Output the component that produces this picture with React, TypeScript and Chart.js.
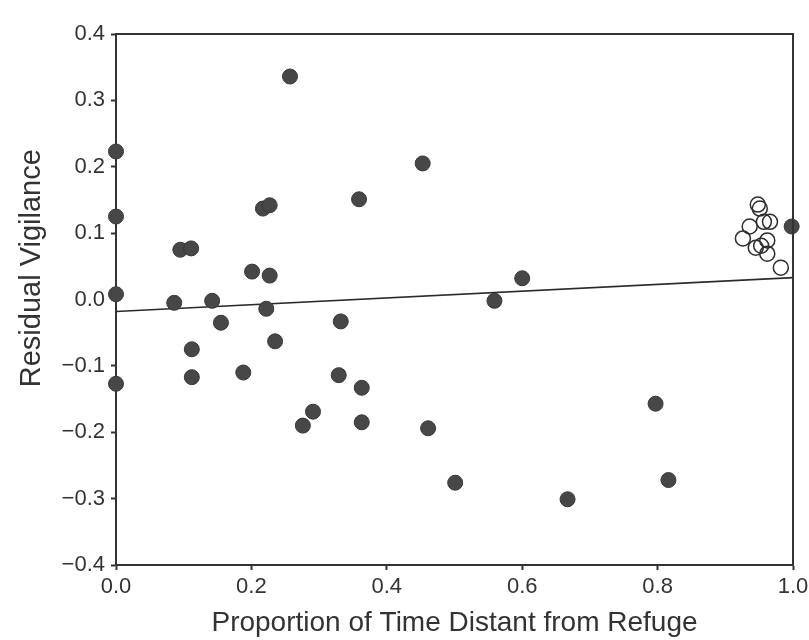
import React, { useEffect, useRef } from "react";
import { Chart, registerables } from "chart.js";

Chart.register(...registerables);

// Filled circles: [proportion of time distant from refuge, residual vigilance]
const filledX = [0.0, 0.0, 0.0, 0.0, 0.257, 0.453, 0.359, 0.217, 0.227, 0.095, 0.111, 0.201, 0.227, 0.086, 0.142, 0.222, 0.155, 0.112, 0.112, 0.235, 0.332, 0.188, 0.329, 0.363, 0.291, 0.276, 0.363, 0.461, 0.559, 0.600, 0.501, 0.667, 0.797, 0.816, 0.998];
const filledY = [0.223, 0.125, 0.008, -0.127, 0.336, 0.205, 0.151, 0.137, 0.142, 0.075, 0.077, 0.042, 0.036, -0.005, -0.002, -0.014, -0.035, -0.075, -0.117, -0.063, -0.033, -0.110, -0.114, -0.133, -0.169, -0.190, -0.185, -0.194, -0.002, 0.032, -0.276, -0.301, -0.157, -0.272, 0.110];

// Open circles
const openX = [0.948, 0.951, 0.957, 0.966, 0.936, 0.926, 0.962, 0.945, 0.953, 0.962, 0.982];
const openY = [0.143, 0.137, 0.117, 0.117, 0.110, 0.092, 0.089, 0.078, 0.081, 0.069, 0.048];

// Regression line end points
const lineX = [0.0, 1.0];
const lineY = [-0.018, 0.033];

const xTicks = [0.0, 0.2, 0.4, 0.6, 0.8, 1.0];
const yTicks = [-0.4, -0.3, -0.2, -0.1, 0.0, 0.1, 0.2, 0.3, 0.4];

const xTitle = "Proportion of Time Distant from Refuge";
const yTitle = "Residual Vigilance";

const FONT = "'Liberation Sans', Arial, Helvetica, sans-serif";
const INK = "#333333";

const fmt = (v: number) => {
  const s = Math.abs(v).toFixed(1);
  return v < -1e-9 ? "\u2212" + s : s;
};

const framePlugin = {
  id: "frameAndYTitle",
  afterDraw(chart: any) {
    const { ctx, chartArea } = chart;
    ctx.save();
    ctx.strokeStyle = INK;
    ctx.lineWidth = 2;
    ctx.beginPath();
    ctx.moveTo(chartArea.left, chartArea.top);
    ctx.lineTo(chartArea.right, chartArea.top);
    ctx.lineTo(chartArea.right, chartArea.bottom);
    ctx.stroke();
    // y-axis title
    ctx.translate(32, chartArea.top + (chartArea.bottom - chartArea.top) * 0.441);
    ctx.rotate(-Math.PI / 2);
    ctx.fillStyle = INK;
    ctx.font = `29px ${FONT}`;
    ctx.textAlign = "center";
    ctx.textBaseline = "middle";
    ctx.fillText(yTitle, 0, 0);
    ctx.restore();
  },
};

export default function App() {
  const ref = useRef<HTMLCanvasElement | null>(null);

  useEffect(() => {
    if (!ref.current) return;
    const chart = new Chart(ref.current, {
      type: "scatter",
      data: {
        datasets: [
          {
            type: "line",
            label: "fit",
            data: lineX.map((x, i) => ({ x, y: lineY[i] })),
            borderColor: "#2b2b2b",
            borderWidth: 1.6,
            pointRadius: 0,
            fill: false,
            order: 3,
          } as any,
          {
            label: "filled",
            data: filledX.map((x, i) => ({ x, y: filledY[i] })),
            backgroundColor: "#474747",
            borderColor: "#383838",
            borderWidth: 1,
            pointRadius: 7.5,
            clip: false,
            order: 1,
          },
          {
            label: "open",
            data: openX.map((x, i) => ({ x, y: openY[i] })),
            backgroundColor: "rgba(255,255,255,0)",
            borderColor: "#2e2e2e",
            borderWidth: 1.5,
            pointRadius: 7.5,
            clip: false,
            order: 2,
          },
        ],
      },
      options: {
        animation: false,
        responsive: true,
        maintainAspectRatio: false,
        layout: { padding: { top: 34, right: 16, left: 0, bottom: 0 } },
        plugins: {
          legend: { display: false },
          tooltip: { enabled: false },
        },
        scales: {
          x: {
            type: "linear",
            min: 0,
            max: 1,
            afterFit: (s: any) => {
              s.height = 75;
              s.paddingLeft = 0;
              s.paddingRight = 0;
            },
            afterBuildTicks: (s: any) => {
              s.ticks = xTicks.map((v) => ({ value: v }));
            },
            ticks: {
              callback: (v: any) => fmt(Number(v)),
              color: INK,
              font: { family: FONT, size: 22 },
              padding: 4,
              maxRotation: 0,
            },
            grid: {
              display: true,
              drawOnChartArea: false,
              drawTicks: true,
              tickLength: 5,
              tickWidth: 2,
              color: INK,
            },
            border: { display: true, color: INK, width: 2 },
            title: {
              display: true,
              text: xTitle,
              color: INK,
              font: { family: FONT, size: 28 },
              padding: { top: 0, bottom: 0 },
            },
          },
          y: {
            type: "linear",
            min: -0.4,
            max: 0.4,
            afterFit: (s: any) => {
              s.width = 116;
              s.paddingTop = 0;
              s.paddingBottom = 0;
            },
            afterBuildTicks: (s: any) => {
              s.ticks = yTicks.map((v) => ({ value: v }));
            },
            ticks: {
              callback: (v: any) => fmt(Number(v)),
              color: INK,
              font: { family: FONT, size: 22 },
              padding: 6,
            },
            grid: {
              display: true,
              drawOnChartArea: false,
              drawTicks: true,
              tickLength: 5,
              tickWidth: 2,
              color: INK,
            },
            border: { display: true, color: INK, width: 2 },
          },
        },
      },
      plugins: [framePlugin],
    });
    return () => chart.destroy();
  }, []);

  return (
    <div style={{ position: "fixed", left: 0, top: 0, width: 809, height: 640, background: "#fff" }}>
      <canvas ref={ref} />
    </div>
  );
}
